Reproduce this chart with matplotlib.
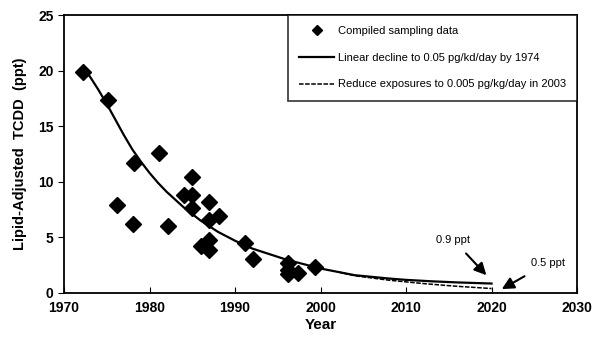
import matplotlib
matplotlib.use("Agg")
import matplotlib.pyplot as plt

plt.rcParams['font.family'] = ['Liberation Sans', 'DejaVu Sans']

# compiled sampling data
obs_year = [1972.2, 1975.2, 1976.2, 1978.2, 1978.1, 1981.1, 1982.2, 1984.0, 1985.0,
            1985.0, 1985.0, 1987.0, 1988.1, 1987.0, 1986.0, 1987.0, 1987.0, 1991.2,
            1992.1, 1996.2, 1996.2, 1996.2, 1997.4, 1999.4]
obs_tcdd = [19.9, 17.4, 7.9, 11.7, 6.2, 12.6, 6.0, 8.8, 8.8,
            10.4, 7.6, 8.2, 6.9, 6.6, 4.2, 4.8, 3.9, 4.5,
            3.1, 2.7, 2.1, 1.7, 1.8, 2.3]

# model curves
lin_year = [1972, 1973, 1974, 1975, 1976, 1977, 1978, 1979, 1980, 1981, 1982, 1983,
            1984, 1985, 1986, 1987, 1988, 1989, 1990, 1992, 1994, 1996, 1998, 2000,
            2002, 2004, 2006, 2008, 2010, 2013, 2016, 2020]
lin_tcdd = [20.0, 19.5, 18.3, 17.0, 15.6, 14.2, 12.9, 11.8, 10.8, 9.9, 9.1, 8.4,
            7.7, 7.1, 6.5, 6.0, 5.5, 5.1, 4.7, 4.0, 3.5, 3.0, 2.6, 2.2,
            1.9, 1.6, 1.45, 1.3, 1.18, 1.05, 0.95, 0.85]
red_year = [2002, 2004, 2006, 2008, 2010, 2012, 2014, 2016, 2018, 2020]
red_tcdd = [1.9, 1.55, 1.35, 1.15, 1.0, 0.85, 0.72, 0.6, 0.5, 0.4]

fig = plt.figure(figsize=(5.95, 3.49), dpi=100)
ax = fig.add_axes([0.1076, 0.1605, 0.8622, 0.7965])

ax.plot(obs_year, obs_tcdd, 'D', color='black', ms=8, lw=0, label='Compiled sampling data')
ax.plot(lin_year, lin_tcdd, '-', color='black', lw=1.6,
        label='Linear decline to 0.05 pg/kd/day by 1974')
ax.plot(red_year, red_tcdd, '--', color='black', lw=1.1, dashes=(3, 1),
        label='Reduce exposures to 0.005 pg/kg/day in 2003')

ax.annotate('0.9 ppt', xy=(2019.4, 1.6), xytext=(2015.5, 4.8), fontsize=8,
            ha='center', va='center',
            arrowprops=dict(arrowstyle='-|>', color='black', lw=1.5, mutation_scale=18,
                            shrinkA=6, shrinkB=0))
ax.annotate('0.5 ppt', xy=(2021.2, 0.35), xytext=(2026.6, 2.7), fontsize=8,
            ha='center', va='center',
            arrowprops=dict(arrowstyle='-|>', color='black', lw=1.5, mutation_scale=18,
                            shrinkA=8, shrinkB=0))

ax.set_xlim(1970, 2030)
ax.set_ylim(0, 25)
ax.set_xticks(range(1970, 2031, 10))
ax.set_yticks(range(0, 26, 5))
ax.tick_params(axis='x', direction='in', length=4, labelsize=10, pad=6)
ax.tick_params(axis='y', direction='out', length=4, labelsize=10)
for lab in ax.get_xticklabels() + ax.get_yticklabels():
    lab.set_fontweight('bold')
for s in ax.spines.values():
    s.set_linewidth(1.3)

ax.set_xlabel('Year', fontsize=11, fontweight='bold', labelpad=2)
ax.set_ylabel('Lipid-Adjusted  TCDD  (ppt)', fontsize=10.5, fontweight='bold', labelpad=8)

leg = ax.legend(loc='upper right', fontsize=8, frameon=True, fancybox=False,
                edgecolor='black', borderaxespad=0, labelspacing=1.5,
                handlelength=3.2, handletextpad=0.3, borderpad=1.0, markerscale=0.6)
leg.get_frame().set_linewidth(1.2)

fig.savefig('out.png', dpi=100)
